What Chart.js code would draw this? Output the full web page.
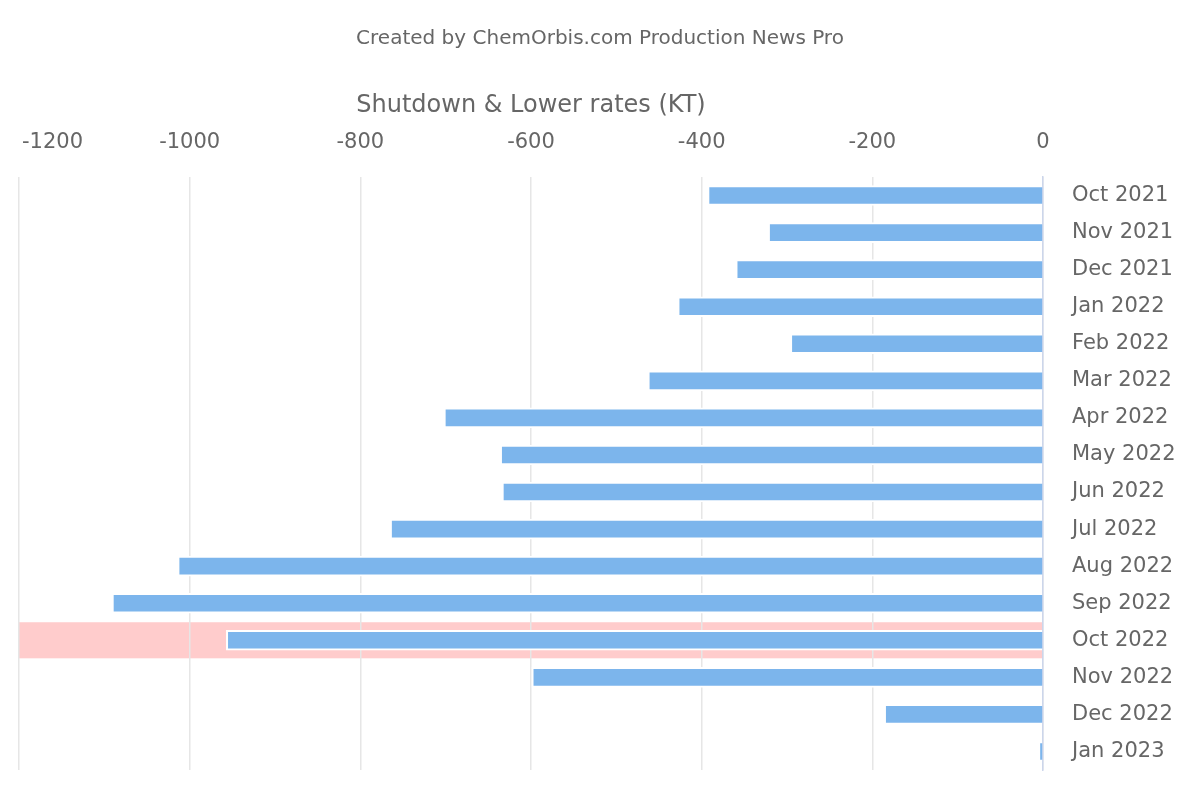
<!DOCTYPE html>
<html>
<head>
<meta charset="utf-8">
<script src="https://cdn.jsdelivr.net/npm/chart.js@4/dist/chart.umd.min.js"></script>
<style>
  html, body { margin: 0; padding: 0; background: #ffffff; }
  #wrap { width: 1200px; height: 800px; }
</style>
</head>
<body>
<div id="wrap"><canvas id="shutdownChart"></canvas></div>
<script>
// months and shutdown volumes (KT)
const months = ['Oct 2021', 'Nov 2021', 'Dec 2021', 'Jan 2022', 'Feb 2022', 'Mar 2022',
    'Apr 2022', 'May 2022', 'Jun 2022', 'Jul 2022', 'Aug 2022', 'Sep 2022',
    'Oct 2022', 'Nov 2022', 'Dec 2022', 'Jan 2023'];
const shutdownKT = [-393, -322, -360, -428, -296, -463, -702, -636, -634, -765,
    -1014, -1091, -957, -599, -186, -5];
const highlightMonth = 'Oct 2022';
const axisMin = -1200;
const axisMax = 0;
const axisStep = 200;

const textColor = '#666666';
const fontFamily = '"DejaVu Sans", Verdana, sans-serif';

// pink band behind the highlighted month, also nudges the first x label inside
const highlightPlugin = {
    id: 'highlightBand',
    beforeDraw(chart) {
        const ctx = chart.ctx;
        const area = chart.chartArea;
        const y = chart.scales.y;
        const x = chart.scales.x;
        const idx = months.indexOf(highlightMonth);
        if (idx >= 0) {
            const step = (area.bottom - area.top) / months.length;
            const cy = y.getPixelForValue(idx);
            ctx.save();
            ctx.fillStyle = '#ffcccc';
            ctx.fillRect(x.getPixelForValue(axisMin), cy - step / 2 + 0.5,
                x.getPixelForValue(axisMax) - x.getPixelForValue(axisMin), step - 1);
            ctx.restore();
        }
        const items = x.getLabelItems();
        if (items.length) {
            items[0].options.textAlign = 'left';
            items[0].options.translation[0] = x.getPixelForValue(axisMin) + 3;
        }
    }
};

new Chart(document.getElementById('shutdownChart').getContext('2d'), {
    type: 'bar',
    data: {
        labels: months,
        datasets: [{
            label: 'Shutdown & Lower rates (KT)',
            data: shutdownKT,
            backgroundColor: '#7cb5ec',
            borderColor: '#ffffff',
            borderWidth: 2,
            borderSkipped: 'start',
            barThickness: 20
        }]
    },
    options: {
        indexAxis: 'y',
        responsive: true,
        maintainAspectRatio: false,
        animation: false,
        layout: {
            padding: { top: 0, left: 0, right: 0, bottom: 30 }
        },
        plugins: {
            legend: { display: false },
            tooltip: { enabled: false },
            title: {
                display: true,
                text: 'Created by ChemOrbis.com Production News Pro',
                color: textColor,
                font: { family: fontFamily, size: 20, weight: 'normal' },
                padding: { top: 27, bottom: 10 }
            }
        },
        scales: {
            x: {
                position: 'top',
                min: axisMin,
                max: axisMax,
                ticks: {
                    stepSize: axisStep,
                    color: textColor,
                    padding: 22,
                    maxRotation: 0,
                    font: { family: fontFamily, size: 21 },
                    callback: (v) => String(v)
                },
                grid: {
                    color: '#e6e6e6',
                    lineWidth: 1.5,
                    drawTicks: false
                },
                border: { display: false },
                title: {
                    display: true,
                    text: 'Shutdown & Lower rates (KT)',
                    color: textColor,
                    font: { family: fontFamily, size: 24 },
                    padding: { top: 30, bottom: 10 }
                },
                afterFit(scale) {
                    // keep the plot's left edge 19px in, title stays page-centred
                    scale.paddingLeft = 19;
                    scale.paddingRight = 0;
                    // fit() counts the tick padding twice, keep it once
                    scale.height -= scale.options.ticks.padding;
                }
            },
            y: {
                position: 'right',
                ticks: {
                    color: textColor,
                    padding: 29,
                    font: { family: fontFamily, size: 21 }
                },
                grid: { display: false, drawTicks: false },
                border: { display: true, color: '#ccd6eb', width: 1.5 },
                afterFit(scale) {
                    scale.width = 157;
                    scale.paddingTop = 0;
                    scale.paddingBottom = 0;
                }
            }
        }
    },
    plugins: [highlightPlugin]
});
</script>
</body>
</html>
